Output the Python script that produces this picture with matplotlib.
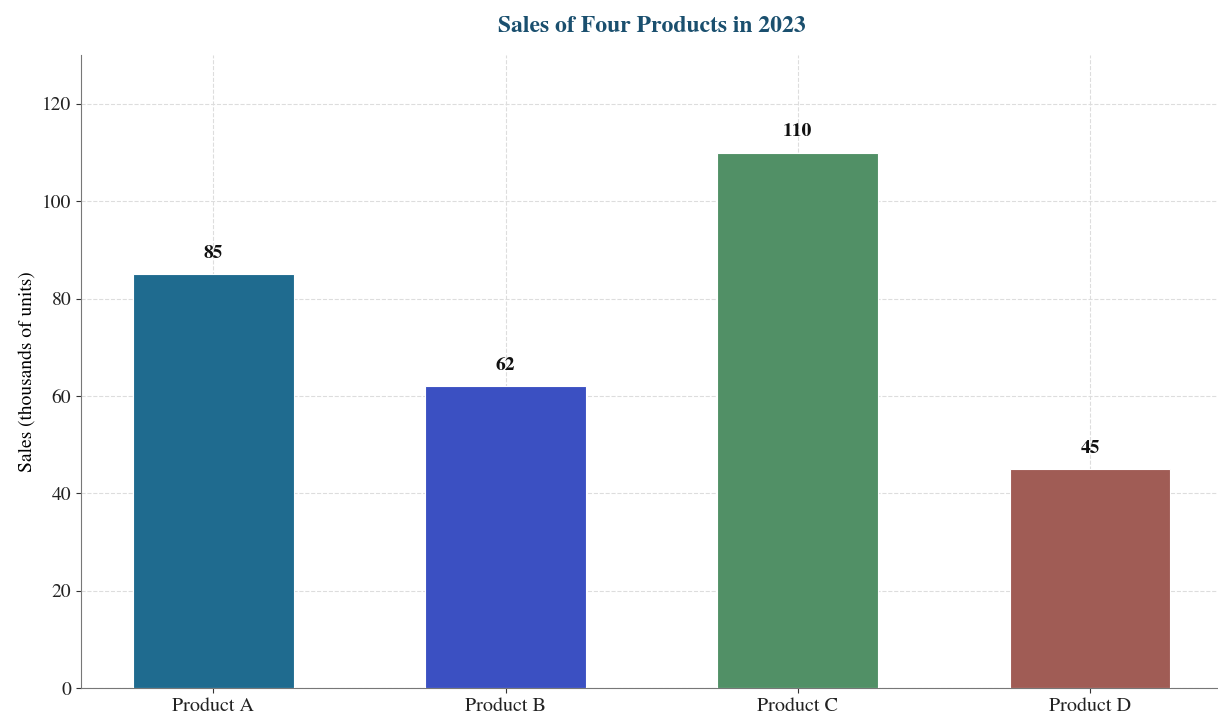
import matplotlib
matplotlib.use("Agg")
import matplotlib.pyplot as plt

products = ["Product A", "Product B", "Product C", "Product D"]
sales = [85, 62, 110, 45]
bar_colors = ["#1f6b8f", "#3b50c2", "#519066", "#a05c55"]

plt.rcParams["font.family"] = ["STIXGeneral", "DejaVu Serif"]

fig = plt.figure(figsize=(12.18, 7.17), dpi=100)
ax = fig.add_axes([0.0665, 0.0404, 0.937, 0.8826])

x = range(len(products))
bars = ax.bar(x, sales, width=0.55, color=bar_colors, edgecolor="white", linewidth=0.8, zorder=3)

for xi, v in zip(x, sales):
    ax.text(xi, v + 2.5, f"{v}", ha="center", va="bottom", fontsize=14, fontweight="bold", color="#111111", zorder=4)

ax.set_xticks(list(x))
ax.set_xticklabels(products, fontsize=14.5)
ax.set_ylim(0, 130)
ax.set_yticks(range(0, 121, 20))
ax.tick_params(axis="y", labelsize=14)
ax.set_ylabel("Sales (thousands of units)", fontsize=14)
ax.set_title("Sales of Four Products in 2023", fontsize=17, fontweight="bold", color="#1a4f6e", pad=17)

ax.grid(True, linestyle="--", color="#dddddd", linewidth=0.8, zorder=0)
ax.set_axisbelow(True)
for side in ("top", "right"):
    ax.spines[side].set_visible(False)
for side in ("left", "bottom"):
    ax.spines[side].set_color("#777777")
ax.tick_params(colors="#333333", labelcolor="#222222")

fig.savefig("out.png", dpi=100)
